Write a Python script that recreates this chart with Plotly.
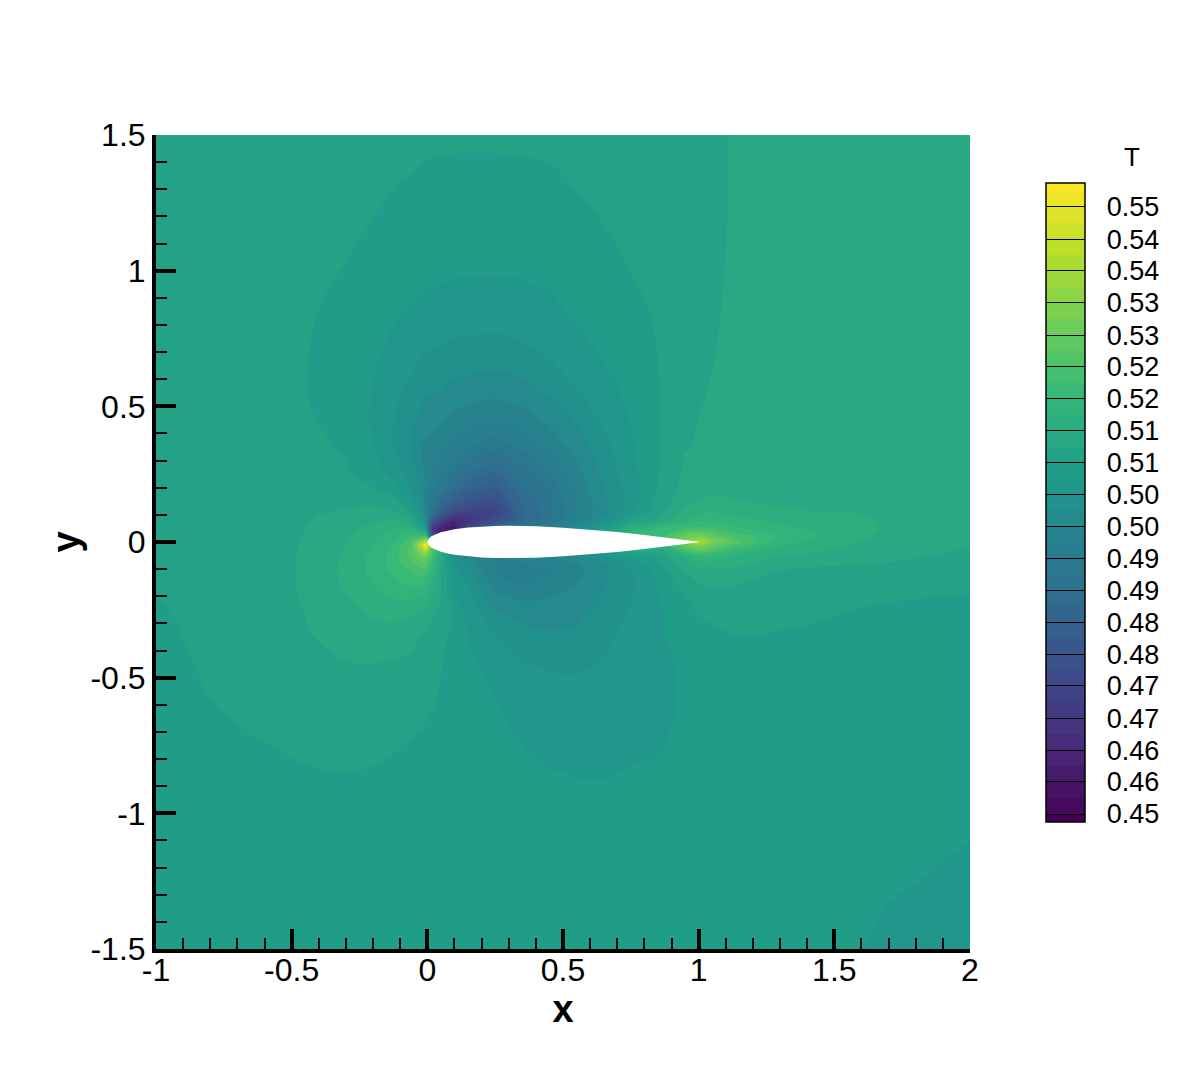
import plotly.graph_objects as go
import numpy as np

# Grid (nonuniform, denser near the airfoil)
x_grid = [-1,-.8,-.6,-.45,-.3,-.2,-.12,-.06,-.02,-.006,.02,.05,.1,.15,.25,.35,.45,.55,.65,.75,.85,.95,1.005,1.06,1.15,1.3,1.45,1.6,1.7,1.85,2]
y_grid = [1.5,1.3,1.2,1.1,1,.9,.8,.7,.55,.45,.35,.27,.2,.15,.11,.08,.05,.02,0,-.012,-.05,-.08,-.11,-.15,-.2,-.27,-.35,-.45,-.55,-.7,-.85,-1,-1.25,-1.5]

# T read from the contour bands, one list per x_grid column, in band counts
# from the T = 0.5105 level (one band = 0.1/38)
bands_by_column = [
 [-.5,-.5,-.5,-.5,-.5,-.5,-.5,-.5,-.5,-.5,-.55,-.6,-.6,-.65,-.65,-.7,-.7,-.75,-.78,-.8,-.85,-.88,-.9,-.95,-1,-1.08,-1.15,-1.25,-1.3,-1.4,-1.45,-1.5,-1.6,-1.7],
 [-.5,-.5,-.5,-.5,-.5,-.5,-.5,-.5,-.5,-.5,-.5,-.52,-.54,-.55,-.56,-.57,-.58,-.59,-.6,-.61,-.62,-.63,-.65,-.68,-.72,-.78,-.82,-.88,-.96,-1.1,-1.22,-1.32,-1.5,-1.62],
 [-.55,-.55,-.55,-.55,-.55,-.55,-.55,-.55,-.55,-.52,-.5,-.48,-.45,-.43,-.42,-.42,-.42,-.42,-.42,-.42,-.42,-.42,-.42,-.43,-.45,-.5,-.55,-.65,-.75,-.94,-1.15,-1.25,-1.45,-1.6],
 [-.6,-.65,-.7,-.75,-.82,-.88,-.93,-.96,-.97,-.88,-.65,-.45,-.3,-.2,-.12,-.06,0,.05,.08,.1,.13,.14,.15,.14,.1,.03,-.1,-.28,-.45,-.72,-1.06,-1.18,-1.38,-1.55],
 [-.6,-.72,-.8,-.9,-1.02,-1.12,-1.2,-1.27,-1.32,-1.26,-1.13,-.9,-.62,-.3,.11,.38,.63,.84,.95,1.02,1.17,1.23,1.25,1.2,1,.77,.44,-.05,-.3,-.6,-.98,-1.18,-1.38,-1.55],
 [-.72,-.88,-.98,-1.15,-1.32,-1.5,-1.65,-1.82,-2.04,-2.1,-1.95,-1.6,-1,-.15,.33,.84,1.35,1.77,2,2.08,2.27,2.31,2.27,2.08,1.72,1.1,.6,0,-.3,-.68,-1.05,-1.2,-1.4,-1.55],
 [-.8,-1,-1.13,-1.3,-1.5,-1.78,-2,-2.25,-2.8,-3.02,-3.03,-2.5,-1.75,-.6,0,1,2,2.7,3,3.2,3.5,3.46,3.3,2.8,2.17,1.25,.55,-.1,-.4,-.85,-1.12,-1.25,-1.42,-1.55],
 [-.82,-1.05,-1.22,-1.4,-1.65,-1.9,-2.23,-2.6,-3.25,-3.75,-3.95,-3.55,-3.05,-2.1,-1.1,.12,2.05,3.75,4.7,5.2,5.47,4.85,4.1,3.3,2.25,1.03,.37,-.25,-.5,-.95,-1.2,-1.32,-1.45,-1.6],
 [-.84,-1.12,-1.3,-1.55,-1.75,-2,-2.45,-2.95,-3.7,-4.3,-5,-4.7,-4.3,-3.8,-3,-2,-.6,4.3,10,12.4,7.7,5.6,4.5,3.3,1.9,.77,-.12,-.45,-.65,-1.02,-1.25,-1.4,-1.5,-1.65],
 [-.85,-1.15,-1.35,-1.6,-1.8,-2.08,-2.5,-3,-3.85,-4.6,-5.2,-5.4,-5.5,-5.3,-5,-4.5,-1.5,4.4,13,16.5,7.7,5.6,4.45,3.2,1.85,.65,-.2,-.55,-.72,-1.08,-1.3,-1.45,-1.55,-1.65],
 [-.85,-1.18,-1.38,-1.7,-1.85,-2.07,-2.55,-3.05,-3.95,-4.7,-5.45,-6,-6.7,-7.5,-9,-12,-17,-12,6,6,4.5,3.2,2.4,1.6,.9,.1,-.5,-.8,-.85,-1.15,-1.35,-1.5,-1.6,-1.7],
 [-.85,-1.22,-1.42,-1.72,-1.85,-2.13,-2.6,-3.1,-4,-4.9,-5.7,-6.5,-7.6,-9.7,-11.5,-15,-19.5,-20,-5,1,.5,.3,.2,.15,.05,-.2,-.8,-.92,-1.07,-1.25,-1.42,-1.55,-1.65,-1.75],
 [-.85,-1.25,-1.46,-1.7,-1.9,-2.2,-2.7,-3.25,-4.35,-5.3,-6.25,-7.4,-9.3,-11.3,-14.5,-19,-20.5,-20,-12,-5,-3.5,-3,-2.7,-2.4,-2,-1.15,-1.2,-1.3,-1.38,-1.55,-1.65,-1.68,-1.72,-1.75],
 [-.85,-1.27,-1.47,-1.67,-1.9,-2.25,-2.75,-3.35,-4.5,-5.55,-6.85,-8.5,-10.7,-12.75,-15.3,-17.5,-15,-12,-10,-8,-4.9,-4.3,-3.7,-2.9,-2.6,-2.25,-2,-1.75,-1.65,-1.65,-1.7,-1.72,-1.75,-1.8],
 [-.85,-1.27,-1.48,-1.64,-1.93,-2.33,-2.8,-3.43,-4.7,-5.85,-7.6,-9.5,-11.7,-13.7,-15.4,-14,-9.5,-9,-8,-7,-6,-6.1,-6.1,-5.6,-4.8,-3.7,-2.9,-2.35,-2.02,-1.85,-1.8,-1.8,-1.8,-1.85],
 [-.85,-1.2,-1.42,-1.65,-1.88,-2.2,-2.65,-3.2,-4.45,-5.5,-6.8,-8.05,-9,-9.7,-10.1,-10.2,-7.5,-6,-5.5,-5.3,-5.4,-6,-6.4,-6,-5.2,-4.3,-3.6,-2.95,-2.4,-2.05,-1.85,-1.8,-1.8,-1.85],
 [-.85,-1.13,-1.34,-1.55,-1.8,-2.05,-2.42,-2.8,-3.85,-4.75,-5.7,-6.85,-7.75,-8.15,-8.3,-8.2,-6,-5,-4.5,-4.5,-5,-5.85,-6.05,-5.5,-5,-4.4,-3.8,-3.08,-2.7,-2.25,-1.95,-1.8,-1.8,-1.85],
 [-.8,-.98,-1.15,-1.37,-1.55,-1.78,-1.98,-2.4,-3.05,-3.85,-4.6,-5.2,-5.6,-5.9,-6.05,-6,-4.5,-3.5,-3.5,-3.8,-4.5,-5,-5.25,-5,-4.65,-4.15,-3.75,-3.15,-2.75,-2.35,-2.02,-1.82,-1.8,-1.85],
 [-.75,-.85,-.95,-1.1,-1.3,-1.5,-1.68,-1.88,-2.35,-2.8,-3.3,-3.65,-4,-4.2,-4.3,-3.5,-1.5,-.5,-.5,-1,-3,-4,-4.2,-4.15,-3.9,-3.5,-3.2,-2.9,-2.65,-2.25,-2.02,-1.82,-1.75,-1.85],
 [-.7,-.72,-.78,-.85,-.98,-1.12,-1.3,-1.5,-1.76,-1.95,-2.15,-2.35,-2.5,-2.6,-2.1,-.8,1.5,3,3,2.5,-1.5,-2.8,-3.1,-3.15,-3.05,-2.85,-2.65,-2.5,-2.45,-2.2,-1.95,-1.8,-1.7,-1.85],
 [-.6,-.65,-.68,-.72,-.78,-.85,-.92,-.97,-1.02,-1.03,-1.03,-1.02,-.95,-.7,-.35,.2,3,3.5,4,2,-.7,-1.2,-1.6,-1.85,-2,-2.1,-2.1,-2.25,-2.3,-2.1,-1.9,-1.8,-1.7,-1.85],
 [-.35,-.3,-.3,-.3,-.33,-.4,-.42,-.45,-.35,-.1,-.03,.12,.4,.75,1.25,2,4,7.5,8.5,7,1.8,.5,0,-.55,-1.05,-1.55,-1.7,-1.82,-1.85,-1.85,-1.8,-1.75,-1.7,-1.85],
 [-.25,-.2,-.2,-.2,-.2,-.2,-.18,-.15,-.02,.02,.08,.25,.65,1.1,1.9,2.8,4.2,8,11.5,9,3.2,1.5,.75,.1,-.4,-.95,-1.3,-1.55,-1.65,-1.7,-1.7,-1.7,-1.7,-1.8],
 [-.1,-.08,-.08,-.07,-.06,-.05,-.03,0,.05,.1,.15,.3,.8,1.2,2,2.9,4,6.5,8,6.5,3,1.5,.6,.1,-.15,-.85,-1.15,-1.4,-1.55,-1.65,-1.68,-1.7,-1.72,-1.8],
 [.1,.1,.1,.1,.12,.15,.18,.2,.25,.3,.35,.45,.75,1.03,1.6,2.3,3.1,4.6,5.1,4.4,1.9,1.2,.7,.05,-.15,-.65,-1.02,-1.3,-1.45,-1.6,-1.68,-1.72,-1.75,-1.82],
 [.2,.2,.2,.2,.22,.25,.28,.3,.35,.4,.45,.55,.7,.9,1.12,1.7,2.4,2.9,2.4,2.15,1.1,.4,-.1,-.3,-.5,-.85,-1.05,-1.25,-1.4,-1.6,-1.7,-1.75,-1.8,-1.88],
 [.3,.3,.3,.3,.32,.35,.38,.4,.45,.5,.55,.6,.7,.85,1.02,1.35,1.7,1.95,1.55,1.4,.75,.1,-.15,-.35,-.55,-.93,-1.15,-1.35,-1.5,-1.65,-1.75,-1.8,-1.88,-1.95],
 [.35,.35,.36,.38,.39,.4,.42,.45,.5,.52,.55,.6,.68,.8,.95,1.2,1.35,1.15,.97,.87,.45,.05,-.2,-.4,-.85,-1.1,-1.2,-1.35,-1.5,-1.65,-1.78,-1.85,-1.95,-1.98],
 [.38,.38,.39,.4,.41,.42,.44,.46,.5,.52,.55,.58,.62,.68,.75,.82,.85,.75,.62,.52,.2,-.02,-.2,-.45,-.93,-1.1,-1.22,-1.38,-1.52,-1.68,-1.8,-1.88,-1.96,-2.05],
 [.4,.4,.41,.42,.43,.44,.45,.46,.5,.5,.52,.54,.55,.55,.55,.52,.45,.3,.18,.12,.03,-.1,-.25,-.5,-.98,-1.12,-1.22,-1.4,-1.55,-1.7,-1.82,-1.92,-2,-2.1],
 [.42,.42,.43,.44,.44,.45,.45,.46,.48,.48,.48,.48,.48,.45,.4,.35,.25,.12,.05,.03,-.08,-.18,-.3,-.5,-1,-1.12,-1.22,-1.4,-1.55,-1.72,-1.85,-1.95,-2.05,-2.2],
]

# NACA-like section, read from the white shape
airfoil_x = [0,.003,.0125,.025,.05,.075,.1,.15,.2,.25,.3,.4,.5,.6,.7,.8,.9,.95,1.0]
airfoil_half = [0,.007,.0189,.0262,.0356,.042,.0468,.0534,.0574,.0594,.06,.058,.0529,.0456,.0366,.0262,.0145,.0081,.0013]

x_ticks = [-1,-.5,0,.5,1,1.5,2]
x_tick_text = ["-1","-0.5","0","0.5","1","1.5","2"]
y_ticks = [-1.5,-1,-.5,0,.5,1,1.5]
y_tick_text = ["-1.5","-1","-0.5","0","0.5","1","1.5"]

cbar_ticks = [.45,.4553,.4605,.4658,.4711,.4763,.4816,.4868,.4921,.4974,.5026,.5079,.5132,.5184,.5237,.5289,.5342,.5395,.5447,.55]
cbar_text = ["0.45","0.46","0.46","0.47","0.47","0.48","0.48","0.49","0.49","0.50","0.50","0.51","0.51","0.52","0.52","0.53","0.53","0.54","0.54","0.55"]

BAND = .1/38
T_REF = .5105
z = T_REF + BAND*np.array(bands_by_column).T

W, H = 1184, 1051   # the page has an 8 px body margin
def fx(p): return (p-8)/W
def fy(p): return 1-(p-8)/H

FONT = "Liberation Sans"
fig = go.Figure()
fig.add_trace(go.Contour(
    x=x_grid, y=y_grid, z=z, colorscale="Viridis",
    contours=dict(start=.45, end=.55+BAND, size=BAND, coloring="fill", showlines=False),
    line=dict(width=0, smoothing=1),
    hoverinfo="skip",
    colorbar=dict(
        x=fx(1046), xanchor="left", y=fy(183), yanchor="top",
        lenmode="pixels", len=639, thicknessmode="pixels", thickness=39,
        xpad=0, ypad=0, outlinewidth=1.5, outlinecolor="black", borderwidth=0,
        tickmode="array", tickvals=cbar_ticks, ticktext=["\u00a0\u00a0" + t for t in cbar_text],
        ticks="inside", ticklen=39, tickwidth=1, tickcolor="black",
        tickfont=dict(family=FONT, size=27, color="black"),
    ),
))
fig.add_trace(go.Scatter(
    x=airfoil_x + airfoil_x[::-1],
    y=airfoil_half + [-v for v in airfoil_half[::-1]],
    mode="lines", line=dict(width=0), fill="toself", fillcolor="white",
    hoverinfo="skip", showlegend=False,
))
axis = dict(showgrid=False, zeroline=False, showline=True, linewidth=4, linecolor="black",
            ticks="inside", ticklen=20, tickwidth=4, tickcolor="black", tickmode="array",
            tickfont=dict(family=FONT, size=32, color="black"),
            minor=dict(dtick=.1, ticks="inside", ticklen=11, tickwidth=1.5, tickcolor="black", showgrid=False))
fig.update_layout(
    width=W, height=H, margin=dict(l=0, r=0, t=0, b=0, autoexpand=False),
    paper_bgcolor="white", plot_bgcolor="white", showlegend=False,
    xaxis=dict(axis, range=[-1,2], domain=[fx(156), fx(970)], tickvals=x_ticks, ticktext=x_tick_text,
               ticklabelstandoff=-10,
               title=dict(text="<b>x</b>", font=dict(family=FONT, size=38, color="black"), standoff=0)),
    yaxis=dict(axis, range=[-1.5,1.5], domain=[fy(949), fy(135)], tickvals=y_ticks, ticktext=y_tick_text,
               title=dict(text="<b>y</b>", font=dict(family=FONT, size=38, color="black"), standoff=0)),
    annotations=[dict(text="T", xref="paper", yref="paper", x=fx(1132), y=fy(157), showarrow=False,
                      xanchor="center", yanchor="middle",
                      font=dict(family=FONT, size=26, color="black"))],
)
assert all(len(c) == len(y_grid) for c in bands_by_column) and len(bands_by_column) == len(x_grid)
fig.write_html("out.html")
